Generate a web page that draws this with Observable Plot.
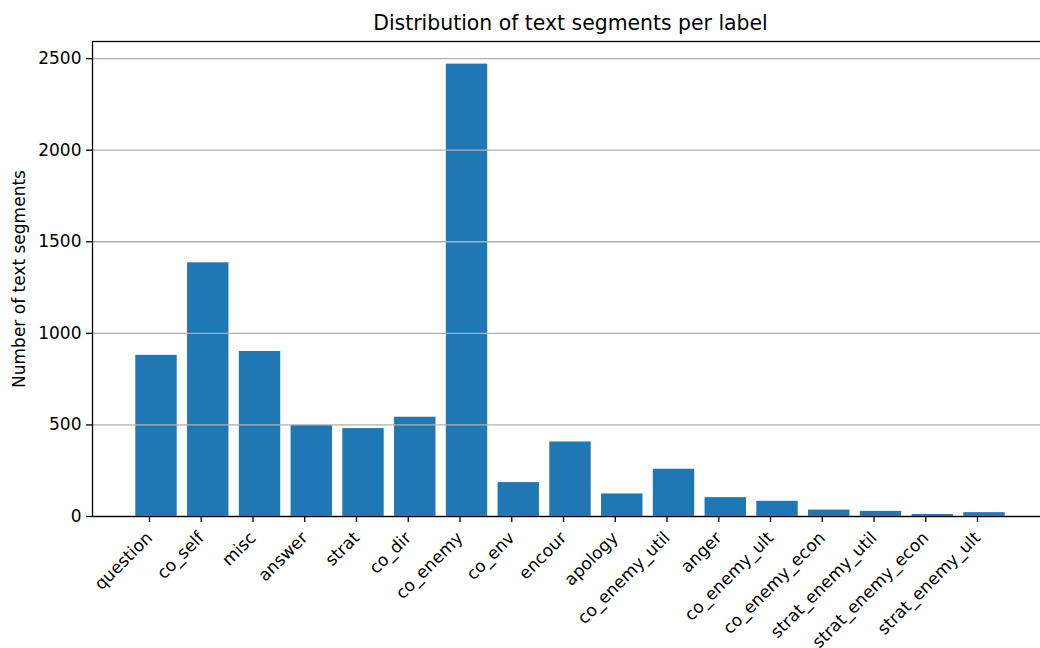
<!DOCTYPE html>
<html>
<head>
<meta charset="utf-8">
<script src="https://cdn.jsdelivr.net/npm/d3@7"></script>
<script src="https://cdn.jsdelivr.net/npm/@observablehq/plot@0.6"></script>
<style>
  html, body { margin: 0; padding: 0; background: #fff; overflow: hidden; }
  #chart { width: 1056px; }
  #chart svg { display: block; max-width: none !important; width: 1056px; height: 648px; }
</style>
</head>
<body>
<div id="chart"></div>
<script>
const title = "Distribution of text segments per label";
const yLabel = "Number of text segments";
const labels = ["question", "co_self", "misc", "answer", "strat", "co_dir", "co_enemy", "co_env", "encour", "apology", "co_enemy_util", "anger", "co_enemy_ult", "co_enemy_econ", "strat_enemy_util", "strat_enemy_econ", "strat_enemy_ult"];
const counts = [880, 1385, 901, 497, 480, 542, 2470, 185, 407, 123, 258, 103, 83, 35, 28, 11, 21];
const yTicks = [0, 500, 1000, 1500, 2000, 2500];

const data = labels.map((label, i) => ({label, count: counts[i]}));

const chart = Plot.plot({
  width: 1056,
  height: 648,
  marginLeft: 92,
  marginRight: 8,
  marginTop: 41,
  marginBottom: 132,
  style: {fontFamily: "'DejaVu Sans', sans-serif", fontSize: "17px", color: "#000", background: "#fff", maxWidth: "none"},
  x: {type: "band", domain: labels, padding: 0.2, round: false, insetLeft: 32.95, insetRight: 32.95, label: null},
  y: {domain: [0, d3.max(counts) * 1.05], label: null},
  marks: [
    Plot.barY(data, {x: "label", y: "count", fill: "#1f77b4"}),
    Plot.gridY(yTicks, {stroke: "#b0b0b0", strokeOpacity: 1, strokeWidth: 1.3}),
    Plot.frame({stroke: "#000", strokeWidth: 1.3}),
    Plot.axisY({ticks: yTicks, tickSize: 6, tickPadding: 5, tickFormat: d => String(d), label: null, stroke: "#000", strokeWidth: 1.3, fontSize: 17}),
    Plot.axisX({tickRotate: -45, tickSize: 6, tickPadding: 12.5, dx: -7, label: null, strokeWidth: 1.3, fontSize: 17}),
    Plot.text([yLabel], {frameAnchor: "left", textAnchor: "middle", lineAnchor: "middle", rotate: -90, dx: -73, fontSize: 17, text: d => d}),
    Plot.text([title], {frameAnchor: "top", textAnchor: "middle", lineAnchor: "middle", dy: -17.6, fontSize: 20.4, text: d => d})
  ]
});
chart.style.maxWidth = "none";
document.getElementById("chart").appendChild(chart);
</script>
</body>
</html>
